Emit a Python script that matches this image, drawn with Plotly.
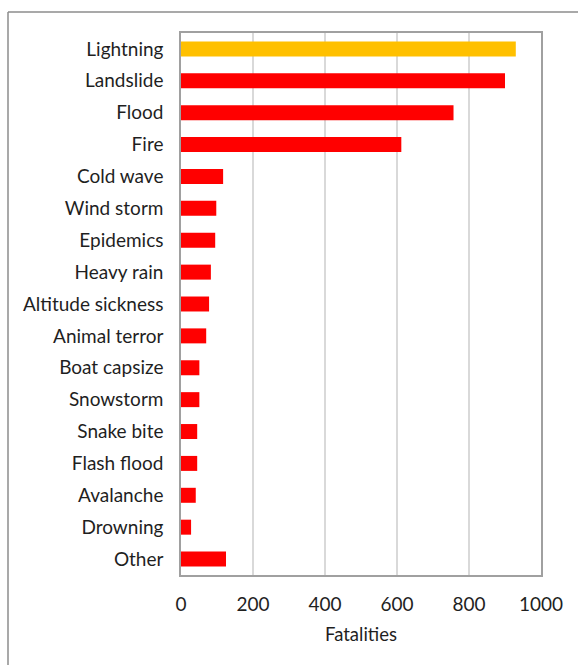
import plotly.graph_objects as go

categories = ["Lightning", "Landslide", "Flood", "Fire", "Cold wave", "Wind storm",
              "Epidemics", "Heavy rain", "Altitude sickness", "Animal terror",
              "Boat capsize", "Snowstorm", "Snake bite", "Flash flood", "Avalanche",
              "Drowning", "Other"]
fatalities = [930, 900, 757, 612, 117, 98, 95, 83, 78, 70, 51, 51, 45, 45, 41, 28, 125]
highlight = "Lightning"
x_ticks = [0, 200, 400, 600, 800, 1000]

colors = ["#FFC000" if c == highlight else "#FF0000" for c in categories]

fig = go.Figure(go.Bar(
    x=fatalities, y=categories, orientation="h",
    marker=dict(color=colors, line=dict(width=0)),
    width=0.47,
))

font_family = "Lato, 'Open Sans', sans-serif"

L, R, T, B = 181, 37, 33, 90
PW, PH = 578 - L - R, 665 - T - B

fig.update_layout(
    width=578, height=665,
    margin=dict(l=L, r=R, t=T, b=B),
    paper_bgcolor="white", plot_bgcolor="white",
    showlegend=False,
    font=dict(family=font_family, color="#1F1F1F"),
    xaxis=dict(
        range=[0, 1000], tickvals=x_ticks, ticktext=[str(v) for v in x_ticks],
        showgrid=True, gridcolor="#D9D9D9", gridwidth=1.5,
        zeroline=False, showline=True, linecolor="#A0A0A0", linewidth=1.5, mirror=True,
        tickfont=dict(size=19, color="#1F1F1F"),
        ticks="", ticklabelstandoff=11,
        title=dict(text="Fatalities", font=dict(size=18.5, color="#1F1F1F"), standoff=15),
    ),
    yaxis=dict(
        autorange="reversed", showgrid=False, zeroline=False,
        showline=True, linecolor="#A0A0A0", linewidth=1.5, mirror=True,
        tickfont=dict(size=19, color="#1F1F1F"),
        ticks="", ticklabelstandoff=12,
    ),
    shapes=[
        dict(type="line", xref="paper", yref="paper",
             x0=(8 - L) / PW, x1=(8 - L) / PW, y0=(665 - B - 12) / PH, y1=-0.3,
             line=dict(color="#8C8C8C", width=1.5)),
        dict(type="line", xref="paper", yref="paper",
             x0=(8 - L) / PW, x1=1.2, y0=(665 - B - 12) / PH, y1=(665 - B - 12) / PH,
             line=dict(color="#8C8C8C", width=1.5)),
    ],
)

fig.write_html("out.html", config={"displayModeBar": False},
               post_script="document.body.style.margin='0';document.body.style.overflow='hidden';")
